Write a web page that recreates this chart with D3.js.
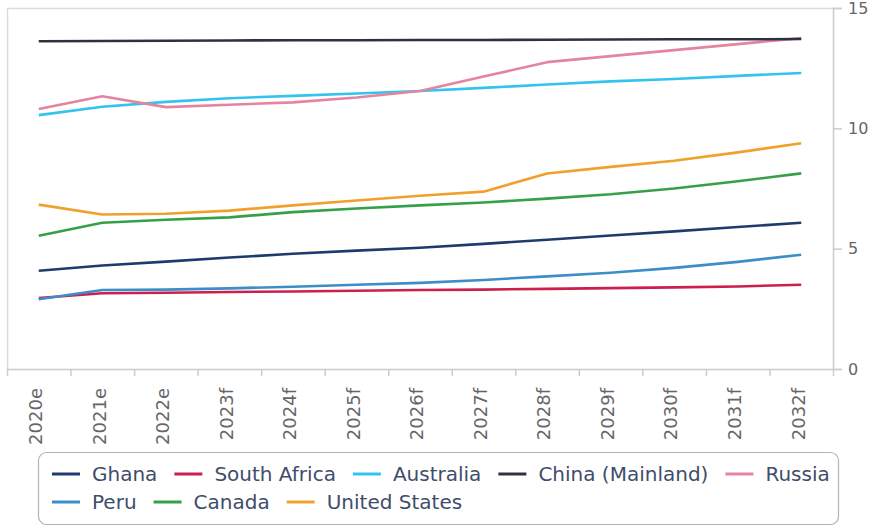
<!DOCTYPE html>
<html>
<head>
<meta charset="utf-8">
<script src="https://cdn.jsdelivr.net/npm/d3@7"></script>
<style>
  html, body { margin: 0; padding: 0; background: #fff; }
  svg { display: block; font-family: "DejaVu Sans", sans-serif; }
</style>
</head>
<body>
<svg id="chart" width="872" height="529"></svg>
<script>
const categories = ["2020e","2021e","2022e","2023f","2024f","2025f","2026f","2027f","2028f","2029f","2030f","2031f","2032f"];
const yTicks = [0, 5, 10, 15];

const ghana       = [4.08, 4.30, 4.46, 4.63, 4.79, 4.92, 5.04, 5.20, 5.37, 5.55, 5.72, 5.90, 6.08];
const southAfrica = [2.95, 3.15, 3.17, 3.20, 3.22, 3.25, 3.28, 3.30, 3.33, 3.36, 3.39, 3.43, 3.50];
const australia   = [10.55, 10.90, 11.10, 11.25, 11.35, 11.45, 11.55, 11.68, 11.82, 11.95, 12.05, 12.18, 12.30];
const china       = [13.62, 13.63, 13.64, 13.65, 13.66, 13.66, 13.67, 13.67, 13.68, 13.69, 13.70, 13.70, 13.71];
const russia      = [10.80, 11.33, 10.88, 10.98, 11.08, 11.28, 11.55, 12.15, 12.75, 13.00, 13.25, 13.50, 13.75];
const peru        = [2.90, 3.28, 3.30, 3.35, 3.42, 3.50, 3.58, 3.70, 3.85, 4.00, 4.20, 4.45, 4.75];
const canada      = [5.54, 6.08, 6.20, 6.30, 6.52, 6.67, 6.80, 6.92, 7.08, 7.26, 7.50, 7.80, 8.13];
const unitedStates= [6.83, 6.42, 6.45, 6.58, 6.80, 7.00, 7.20, 7.37, 8.12, 8.40, 8.65, 9.00, 9.38];

const seriesNames  = ["Ghana","South Africa","Australia","China (Mainland)","Russia","Peru","Canada","United States"];
const seriesValues = [ghana, southAfrica, australia, china, russia, peru, canada, unitedStates];
const seriesColors = ["#1f3a6e","#cc1f4e","#33c3ef","#2e3140","#e4849f","#3d8ec8","#35a047","#f2a02c"];
// draw order (back to front)
const drawOrder = [2, 4, 3, 7, 6, 0, 1, 5];

const svg = d3.select("#chart");
const pLeft = 7, pRight = 833, pTop = 8, pBottom = 369;

const x = d3.scaleBand().domain(categories).range([pLeft, pRight]).padding(0);
const y = d3.scaleLinear().domain([0, 15]).range([pBottom, pTop]);

// plot frame (top & left light lines)
svg.append("line").attr("x1", pLeft).attr("x2", pRight).attr("y1", pTop + 0.5).attr("y2", pTop + 0.5)
  .attr("stroke", "#dcdcdc").attr("stroke-width", 1.5);
svg.append("line").attr("x1", pLeft + 0.5).attr("x2", pLeft + 0.5).attr("y1", pTop).attr("y2", pBottom)
  .attr("stroke", "#dcdcdc").attr("stroke-width", 1.5);

// x axis
const xAxisG = svg.append("g").attr("transform", `translate(0,${pBottom})`);
xAxisG.append("line").attr("x1", pLeft).attr("x2", pRight).attr("y1", 0.5).attr("y2", 0.5)
  .attr("stroke", "#c8ccd4").attr("stroke-width", 1.5);
const bounds = categories.map(c => x(c)).concat([pRight]);
xAxisG.selectAll("line.tick").data(bounds).enter().append("line")
  .attr("class", "tick")
  .attr("x1", d => d + 0.5).attr("x2", d => d + 0.5).attr("y1", 0).attr("y2", 7)
  .attr("stroke", "#c8ccd4").attr("stroke-width", 1.5);
xAxisG.selectAll("text").data(categories).enter().append("text")
  .attr("transform", d => `translate(${x(d) + x.bandwidth() / 2 - 3},19) rotate(-90)`)
  .attr("text-anchor", "end")
  .attr("dy", "0.35em")
  .attr("fill", "#666")
  .attr("font-size", 18)
  .text(d => d);

// y axis (right)
const yAxis = d3.axisRight(y).tickValues(yTicks).tickSize(9).tickPadding(6).tickFormat(d3.format("d"));
const yAxisG = svg.append("g").attr("transform", `translate(${pRight},0)`).call(yAxis);
yAxisG.select(".domain").attr("stroke", "#c8ccd4").attr("stroke-width", 1.5);
yAxisG.selectAll(".tick line").attr("stroke", "#c8ccd4").attr("stroke-width", 1.5);
yAxisG.selectAll(".tick text").attr("fill", "#666").attr("font-size", 16)
  .attr("font-family", "DejaVu Sans, sans-serif");

// lines
const line = d3.line()
  .x((d, i) => x(categories[i]) + x.bandwidth() / 2)
  .y(d => y(d));

drawOrder.forEach(si => {
  svg.append("path")
    .datum(seriesValues[si])
    .attr("fill", "none")
    .attr("stroke", seriesColors[si])
    .attr("stroke-width", 2.6)
    .attr("stroke-linejoin", "round")
    .attr("d", line);
});

// legend
const legend = svg.append("g");
legend.append("rect")
  .attr("x", 38.5).attr("y", 452.5).attr("width", 800).attr("height", 72)
  .attr("rx", 8).attr("ry", 8)
  .attr("fill", "#fff").attr("stroke", "#b4b4b4").attr("stroke-width", 1.2);

const rows = [[0, 1, 2, 3, 4], [5, 6, 7]];
const rowY = [474, 502];
rows.forEach((row, ri) => {
  let cx = 52;
  row.forEach(si => {
    legend.append("line")
      .attr("x1", cx).attr("x2", cx + 28).attr("y1", rowY[ri]).attr("y2", rowY[ri])
      .attr("stroke", seriesColors[si]).attr("stroke-width", 3);
    const t = legend.append("text")
      .attr("x", cx + 40).attr("y", rowY[ri])
      .attr("dy", "0.36em")
      .attr("fill", "#3f4d6b")
      .attr("font-size", 20)
      .text(seriesNames[si]);
    cx += 40 + t.node().getComputedTextLength() + 17;
  });
});
</script>
</body>
</html>
